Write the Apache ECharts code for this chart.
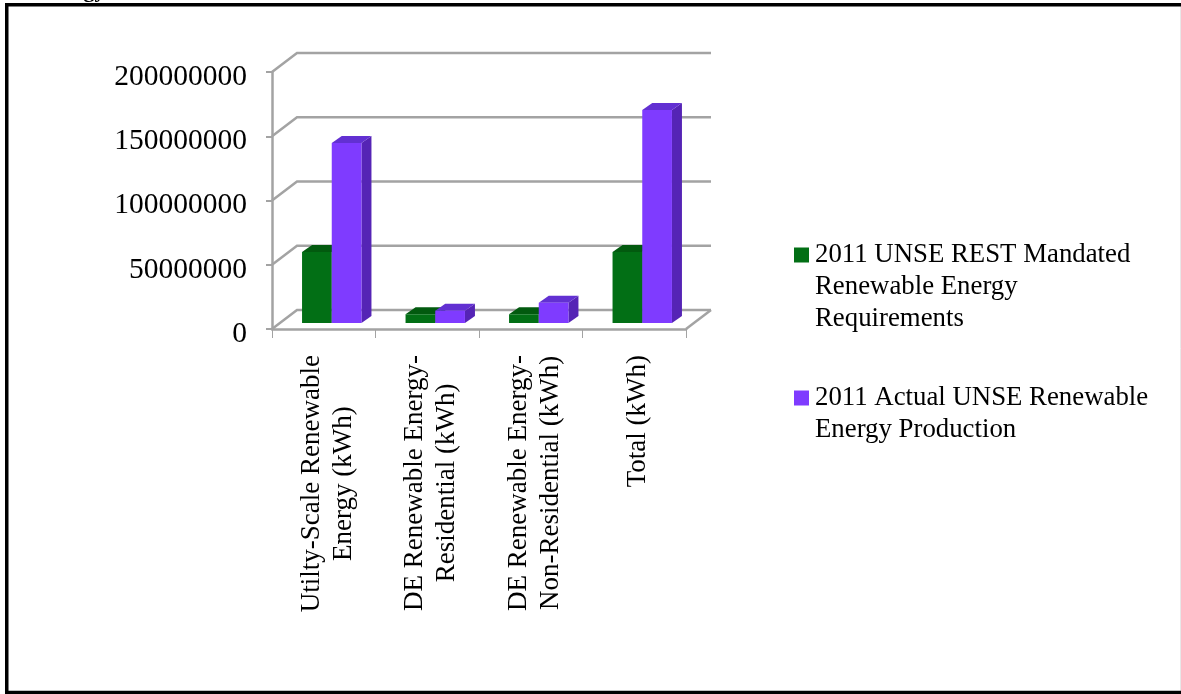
<!DOCTYPE html>
<html>
<head>
<meta charset="utf-8">
<style>html,body{margin:0;padding:0;background:#fff}#chart{width:1181px;height:694px}</style>
<script src="https://cdn.jsdelivr.net/npm/echarts@6/dist/echarts.min.js"></script>
</head>
<body>
<div id="chart"></div>
<script>
// Renewable energy: mandated requirements against actual production, 2011
const categories = [
  'Utilty-Scale Renewable\nEnergy (kWh)',
  'DE Renewable Energy-\nResidential (kWh)',
  'DE Renewable Energy-\nNon-Residential (kWh)',
  'Total (kWh)'
];
const mandatedName = '2011 UNSE REST Mandated Renewable Energy Requirements';
const actualName = '2011 Actual UNSE Renewable Energy Production';
const mandatedKwh = [55300000, 6800000, 6800000, 55300000];
const actualKwh = [140000000, 9600000, 15800000, 165800000];
const yTicks = [0, 50000000, 100000000, 150000000, 200000000];

const legendLines = {
  [mandatedName]: ['2011 UNSE REST Mandated', 'Renewable Energy', 'Requirements'],
  [actualName]: ['2011 Actual UNSE Renewable', 'Energy Production']
};

const SERIF = '"Liberation Serif", serif';
const GRID = '#a3a3a3';
const WALL_DX = 25, WALL_DY = 19;   // depth of the floor and side wall
const BAR_DX = 10, BAR_DY = 7;      // depth of a bar
const INSET_DX = 8, INSET_DY = 6;   // gap from the floor's front edge to the bars

const GREEN = { front: '#026f15', top: '#025a0f', side: '#02500d' };
const PURPLE = { front: '#7f3bff', top: '#6230d2', side: '#5524b5' };

function poly(points, fill) {
  return { type: 'polygon', shape: { points }, style: { fill } };
}

// One extruded column; slot -1 sits left of the category centre, slot 0 right of it.
function barRenderer(colors, slot) {
  return function (params, api) {
    const top = api.coord([api.value(0), api.value(1)]);
    const base = api.coord([api.value(0), 0]);
    const w = api.size([1, 0])[0] * 0.287;
    const x0 = top[0] + slot * w + INSET_DX;
    const x1 = x0 + w;
    const yT = top[1] - INSET_DY;
    const yB = base[1] - INSET_DY;
    return {
      type: 'group',
      children: [
        poly([[x1, yT], [x1 + BAR_DX, yT - BAR_DY], [x1 + BAR_DX, yB - BAR_DY], [x1, yB]], colors.side),
        poly([[x0, yT], [x0 + BAR_DX, yT - BAR_DY], [x1 + BAR_DX, yT - BAR_DY], [x1, yT]], colors.top),
        { type: 'rect', shape: { x: x0, y: yT, width: w, height: yB - yT }, style: { fill: colors.front } }
      ]
    };
  };
}

// Side wall connector and back wall gridline for each value tick.
function wallRenderer(params, api) {
  const p = api.coord([0, api.value(0)]);
  const left = params.coordSys.x;
  const right = left + params.coordSys.width;
  return {
    type: 'polyline',
    shape: { points: [[left, p[1]], [left + WALL_DX, p[1] - WALL_DY], [right + WALL_DX, p[1] - WALL_DY]] },
    style: { fill: null, stroke: GRID, lineWidth: 2.5 }
  };
}

// Right edge of the floor.
function floorEdgeRenderer(params, api) {
  const p = api.coord([0, 0]);
  const right = params.coordSys.x + params.coordSys.width;
  return {
    type: 'line',
    shape: { x1: right, y1: p[1], x2: right + WALL_DX, y2: p[1] - WALL_DY },
    style: { stroke: GRID, lineWidth: 2.5 }
  };
}

const chart = echarts.init(document.getElementById('chart'), null, { renderer: 'canvas' });
chart.setOption({
  animation: false,
  backgroundColor: '#ffffff',
  grid: { left: 272, top: 72, width: 414, height: 257, containLabel: false },
  graphic: [
    // page frame, open on the right where it runs off the page
    { type: 'polyline', silent: true, shape: { points: [[1190, 4.75], [6.75, 4.75], [6.75, 692.5], [1190, 692.5]] },
      style: { fill: null, stroke: '#000', lineWidth: 3.5 }, z: 10 },
    { type: 'line', silent: true, shape: { x1: 1180.5, y1: 6, x2: 1180.5, y2: 691 },
      style: { stroke: '#e8e8e8', lineWidth: 1 }, z: 9 },
    { type: 'text', silent: true, left: 37, top: -20,
      style: { text: 'Energy', font: 'bold 22px ' + SERIF, fill: '#000' }, z: 9 }
  ],
  xAxis: {
    type: 'category',
    data: categories,
    axisLine: { lineStyle: { color: GRID, width: 2.5 } },
    axisTick: { show: true, length: 9, alignWithLabel: false, lineStyle: { color: GRID, width: 1 } },
    splitLine: { show: false },
    axisLabel: {
      interval: 0,
      rotate: 90,
      margin: 26,
      lineHeight: 32,
      color: '#000',
      fontFamily: SERIF,
      fontSize: 27,
      padding: [8, 0, 0, 0],
      formatter: v => v.split('\n').map(s => '{c|' + s + '}').join('\n'),
      rich: { c: { align: 'center', fontFamily: SERIF, fontSize: 27, lineHeight: 32, color: '#000' } }
    }
  },
  yAxis: {
    type: 'value',
    min: yTicks[0],
    max: yTicks[yTicks.length - 1],
    interval: yTicks[1] - yTicks[0],
    axisLine: { show: true, lineStyle: { color: GRID, width: 2.5 } },
    axisTick: { show: true, length: 6, lineStyle: { color: GRID, width: 2 } },
    splitLine: { show: false },
    axisLabel: {
      margin: 25, color: '#000', fontFamily: SERIF, fontSize: 29.5, verticalAlign: 'top', lineHeight: 10,
      formatter: v => String(v)
    }
  },
  legend: {
    orient: 'vertical',
    left: 794,
    top: 172,
    padding: 0,
    itemWidth: 15,
    itemHeight: 15,
    itemGap: 9,
    icon: 'rect',
    selectedMode: false,
    data: [
      { name: mandatedName, itemStyle: { color: GREEN.front } },
      { name: actualName, itemStyle: { color: PURPLE.front } }
    ],
    // blank lines above keep the swatch level with the first text line
    formatter: name => {
      const lines = legendLines[name];
      return lines.map(() => ' ').slice(1).concat(lines).join('\n');
    },
    textStyle: { color: '#000', fontFamily: SERIF, fontSize: 26.8, lineHeight: 32, padding: [6, 0, 0, 1] }
  },
  series: [
    { type: 'custom', name: 'walls', silent: true, renderItem: wallRenderer, data: yTicks.map(v => [v]), encode: { y: 0 }, z: 1 },
    { type: 'custom', name: 'floorEdge', silent: true, renderItem: floorEdgeRenderer, data: [[0]], z: 1 },
    { type: 'custom', name: mandatedName, renderItem: barRenderer(GREEN, -1), itemStyle: { color: GREEN.front },
      data: mandatedKwh.map((v, i) => [i, v]), encode: { x: 0, y: 1 }, z: 2 },
    { type: 'custom', name: actualName, renderItem: barRenderer(PURPLE, 0), itemStyle: { color: PURPLE.front },
      data: actualKwh.map((v, i) => [i, v]), encode: { x: 0, y: 1 }, z: 3 }
  ]
});
</script>
</body>
</html>
